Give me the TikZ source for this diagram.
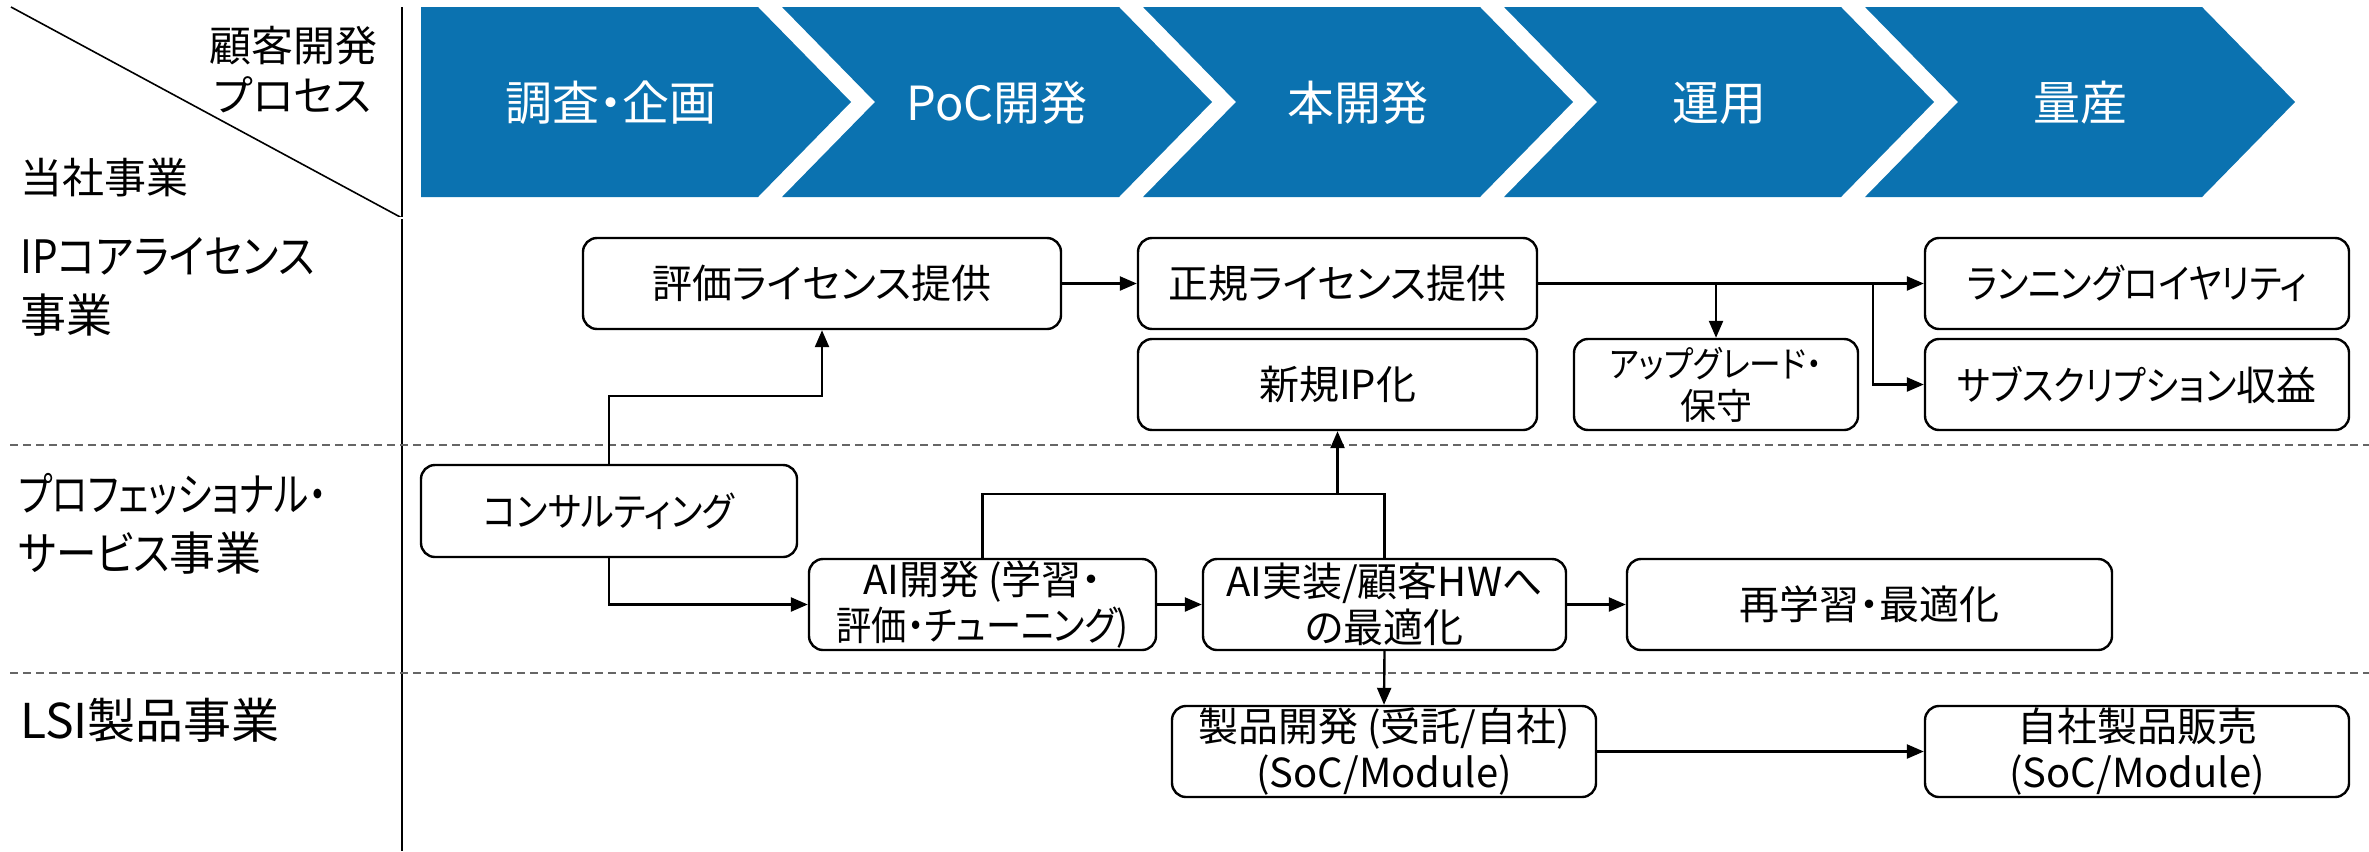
\documentclass[tikz,border=0pt]{standalone}
\usepackage{fontspec}
\setmainfont{Noto Sans CJK JP}[RawFeature=+palt]
\newfontfamily\nk{Noto Sans CJK JP}[RawFeature=+palt, FakeStretch=0.88]
\newfontfamily\nkk{Noto Sans CJK JP}[RawFeature=+palt, FakeStretch=0.8]
\usetikzlibrary{arrows.meta,calc}
\definecolor{chev}{RGB}{11,114,176}
\begin{document}
\begin{tikzpicture}[x=0.5pt,y=-0.5pt,
  box/.style={draw, line width=1.2pt, rounded corners=7pt, inner sep=0pt, align=center,
    font=\fontsize{20}{23}\selectfont, minimum height=45.5pt},
  conn/.style={line width=1.2pt, -{Triangle[length=8.5pt,width=7pt]}},
  conline/.style={line width=1.2pt},
  chevfill/.style={fill=chev, draw=none},
  chevtext/.style={text=white, inner sep=0pt, font=\fontsize{23.5}{28}\selectfont},
  rowlabel/.style={anchor=west, align=left, inner sep=0pt, font=\fontsize{23}{29.5}\selectfont},
  headlabel/.style={align=center, inner sep=0pt, font=\fontsize{21}{25}\selectfont},
  sep/.style={draw=black!60, line width=0.9pt, dash pattern=on 4pt off 2.5pt},
]
\useasboundingbox (0,0) rectangle (2369,851);

% header grid
\draw[line width=0.8pt] (11,7) -- (402,218);
\draw[line width=0.9pt] (402,7) -- (402,851);
\draw[draw=black!75, line width=0.4pt, double, double distance=0.6pt] (8,218) -- (2369,218);
\draw[sep] (10,445) -- (2369,445);
\draw[sep] (10,673) -- (2369,673);

\node[headlabel] (proc) at (293,70) {顧客開発\\プロセス};
\node[rowlabel, font=\fontsize{21}{25}\selectfont] (own) at (20,178) {当社事業};

% chevrons
\fill[chevfill] (421,7) -- (758,7) -- (851,102) -- (758,197) -- (421,197) -- cycle;
\foreach \xl in {782,1143,1504,1865}{
  \fill[chevfill] (\xl,7) -- ($(\xl,7)+(337,0)$) -- ($(\xl,7)+(430,95)$) -- ($(\xl,7)+(337,190)$) -- (\xl,197) -- ($(\xl,7)+(93,95)$) -- cycle;
}
\node[chevtext] (c1) at (611,103) {調査・企画};
\node[chevtext] (c2) at (997,103) {PoC開発};
\node[chevtext] (c3) at (1358,103) {本開発};
\node[chevtext] (c4) at (1719,103) {運用};
\node[chevtext] (c5) at (2080,103) {量産};

% row labels
\node[rowlabel] (r1) at (20,287) {{\nk IPコアライセンス}\\事業};
\node[rowlabel] (r2) at (18,524) {{\nkk プロフェッショナル・}\\{\nk サービス}事業};
\node[rowlabel, font=\fontsize{24}{29.5}\selectfont] (r3) at (20,720) {LSI製品事業};

% boxes
\node[box, minimum width=239pt] (ev) at (822,283.5) {評価ライセンス提供};
\node[box, minimum width=199.5pt] (reg) at (1337.5,283.5) {正規ライセンス提供};
\node[box, minimum width=199.5pt] (newip) at (1337.5,384.5) {新規IP化};
\node[box, minimum width=142pt, font=\fontsize{18}{21}\selectfont] (upg) at (1716,384.5) {{\nk アップグレード・}\\保守};
\node[box, minimum width=212pt] (run) at (2137,283.5) {{\nk ランニングロイヤリティ}};
\node[box, minimum width=212pt] (sub) at (2137,384.5) {{\nk サブスクリプション}収益};
\node[box, minimum width=188pt, minimum height=46pt] (cons) at (609,511) {{\nk コンサルティング}};
\node[box, minimum width=173.5pt] (aidev) at (982.5,604.5) {AI開発 (学習・\\{\nk 評価・チューニング)}};
\node[box, minimum width=181.5pt] (aiimp) at (1384.5,604.5) {AI実装/顧客HWへ\\の最適化};
\node[box, minimum width=242.5pt] (retrain) at (1869.5,604.5) {再学習・最適化};
\node[box, minimum width=212pt] (proddev) at (1384,751.5) {製品開発 (受託/自社)\\(SoC/Module)};
\node[box, minimum width=212pt] (sales) at (2137,751.5) {自社製品販売\\(SoC/Module)};

% connectors
\draw[conn] (cons.north) -- ++(0,-68) -| (ev.south);
\draw[conn] (ev.east) -- (reg.west);
\draw[conn] (reg.east) -- (run.west);
\draw[conn] (reg.east -| upg.north) -- (upg.north);
\coordinate (br) at ($(run.west)+(-51,0)$);
\draw[conn] (br) |- (sub.west);
\draw[conn] (cons.south) |- (aidev.west);
\draw[conn] (aidev.east) -- (aiimp.west);
\draw[conline] (aidev.north) -- ++(0,-64) coordinate (fa) -| (aiimp.north);
\draw[conn] (fa -| newip.south) -- (newip.south);
\draw[conn] (aiimp.east) -- (retrain.west);
\draw[conn] (aiimp.south) -- (proddev.north);
\draw[conn] (proddev.east) -- (sales.west);
\end{tikzpicture}
\end{document}
